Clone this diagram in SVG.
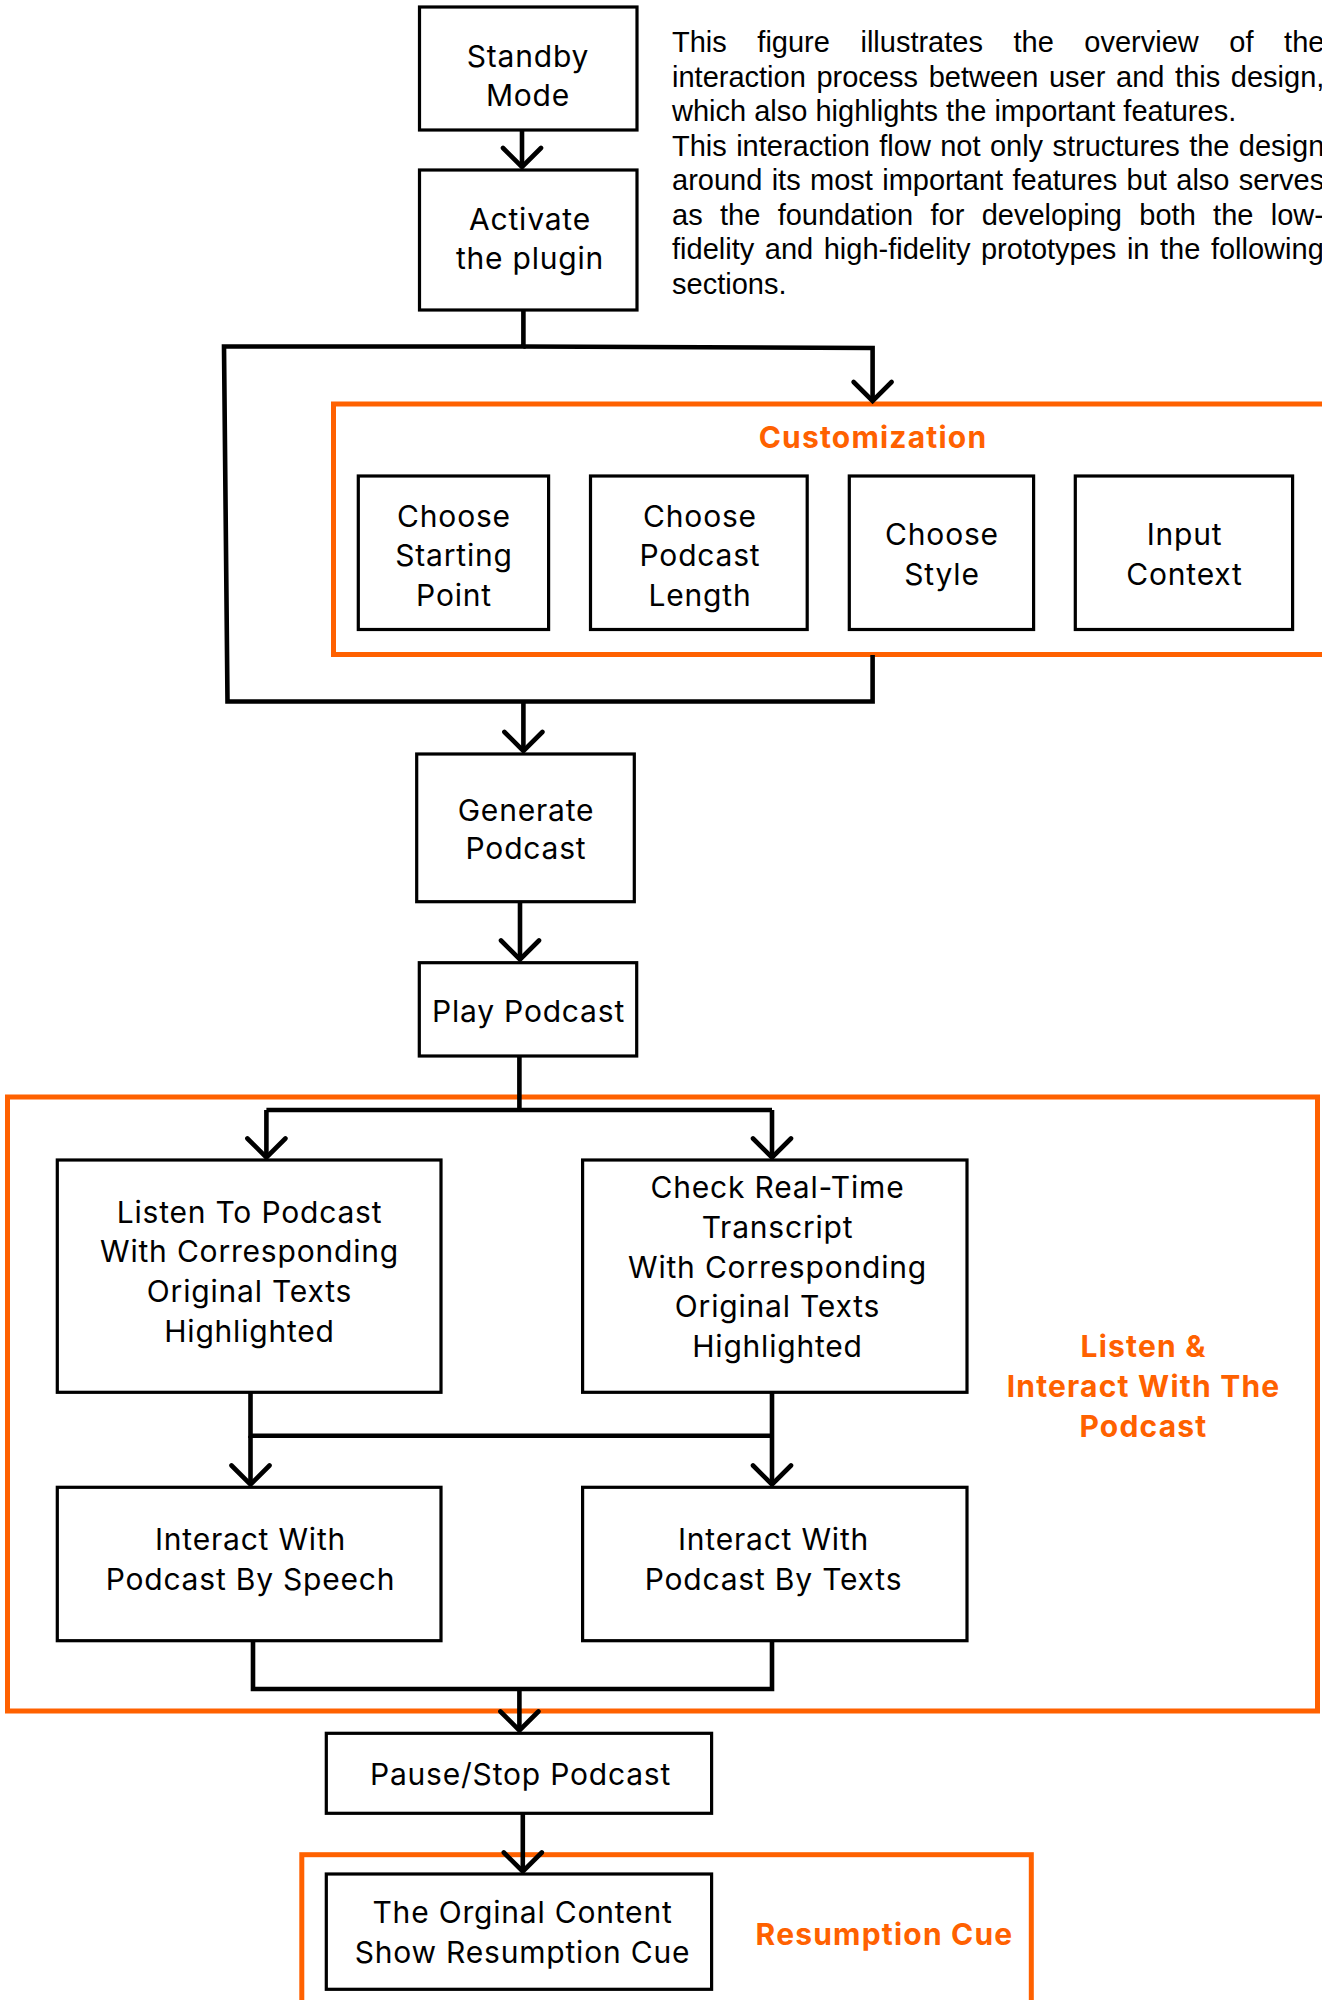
<svg xmlns="http://www.w3.org/2000/svg" width="1322" height="2000" viewBox="0 0 1322 2000">
  <style>
    .box { fill: #ffffff; stroke: #000000; stroke-width: 3.2; }
    .group { fill: none; stroke: #ff6100; stroke-width: 5; }
    .wire { fill: none; stroke: #000000; stroke-width: 4.6; }
    .label { font-family: Inter, "Noto Sans", sans-serif; font-size: 30px; letter-spacing: 0.8px; fill: #000000; text-anchor: middle; }
    .title { font-family: Inter, "Noto Sans", sans-serif; font-size: 30px; letter-spacing: 1.2px; font-weight: 700; fill: #ff6100; text-anchor: middle; }
    .para { font-family: "Liberation Sans", Arial, sans-serif; font-size: 29px; fill: #000000; }
  </style>
  <defs>
    <marker id="chevron" markerUnits="userSpaceOnUse" orient="auto" refX="0" refY="0" markerWidth="60" markerHeight="60" viewBox="-30 -30 60 60" overflow="visible">
      <path d="M-19,-19 L0,0 L-19,19" fill="none" stroke="#000000" stroke-width="4.6" stroke-linecap="round"/>
    </marker>
  </defs>
  <rect width="1322" height="2000" fill="#ffffff"/>

  <!-- grouping frames -->
  <g id="customization-group">
    <rect class="group" x="333.5" y="404" width="1000" height="250.5"/>
    <text class="title" x="873" y="448.3">Customization</text>
  </g>
  <g id="listen-group">
    <rect class="group" x="7.5" y="1097" width="1310" height="614"/>
    <text class="title" x="1143.5" y="1357.3">Listen &amp;</text>
    <text class="title" x="1143.5" y="1397.3">Interact With The</text>
    <text class="title" x="1143.5" y="1437.3">Podcast</text>
  </g>
  <g id="resumption-group">
    <rect class="group" x="301.8" y="1854.7" width="729.5" height="200"/>
    <text class="title" x="884.5" y="1945">Resumption Cue</text>
  </g>

  <!-- connectors -->
  <g id="connectors">
    <path class="wire" d="M522,130 V167" marker-end="url(#chevron)"/>
    <path class="wire" d="M523.4,310 V346.5 H224 L227.5,701.5 H872.6 V655"/>
    <path class="wire" d="M523.4,346.5 L872.6,348 V401" marker-end="url(#chevron)"/>
    <path class="wire" d="M523.4,701.5 V751" marker-end="url(#chevron)"/>
    <path class="wire" d="M520,902 V959.5" marker-end="url(#chevron)"/>
    <path class="wire" d="M519.4,1056 V1110 M266.4,1110 H772"/>
    <path class="wire" d="M266.4,1110 V1157.5" marker-end="url(#chevron)"/>
    <path class="wire" d="M772,1110 V1157.5" marker-end="url(#chevron)"/>
    <path class="wire" d="M250.5,1392 V1435.8 H772"/>
    <path class="wire" d="M250.5,1435.8 V1484.5" marker-end="url(#chevron)"/>
    <path class="wire" d="M772,1392 V1484.5" marker-end="url(#chevron)"/>
    <path class="wire" d="M253,1641 V1689 H772 V1641"/>
    <path class="wire" d="M519.4,1689 V1730.5" marker-end="url(#chevron)"/>
    <path class="wire" d="M522.8,1813 V1871.5" marker-end="url(#chevron)"/>
  </g>

  <!-- nodes -->
  <g id="standby">
    <rect class="box" x="419.5" y="7" width="217.5" height="123"/>
    <text class="label" x="528" y="67">Standby</text>
    <text class="label" x="528" y="106">Mode</text>
  </g>
  <g id="activate">
    <rect class="box" x="419.5" y="170" width="217.5" height="140"/>
    <text class="label" x="530" y="230">Activate</text>
    <text class="label" x="530" y="269.3">the plugin</text>
  </g>
  <g id="starting-point">
    <rect class="box" x="358.3" y="476" width="190.3" height="153.5"/>
    <text class="label" x="454" y="526.7">Choose</text>
    <text class="label" x="454" y="566.3">Starting</text>
    <text class="label" x="454" y="606">Point</text>
  </g>
  <g id="podcast-length">
    <rect class="box" x="590.5" y="476" width="216.7" height="153.5"/>
    <text class="label" x="700" y="526.7">Choose</text>
    <text class="label" x="700" y="566.3">Podcast</text>
    <text class="label" x="700" y="606">Length</text>
  </g>
  <g id="style">
    <rect class="box" x="849.3" y="476" width="184.3" height="153.5"/>
    <text class="label" x="942" y="545.3">Choose</text>
    <text class="label" x="942" y="585">Style</text>
  </g>
  <g id="input-context">
    <rect class="box" x="1075.3" y="476" width="217.3" height="153.5"/>
    <text class="label" x="1184.5" y="545.3">Input</text>
    <text class="label" x="1184.5" y="585">Context</text>
  </g>
  <g id="generate">
    <rect class="box" x="416.7" y="754" width="217.6" height="147.7"/>
    <text class="label" x="526" y="820.5">Generate</text>
    <text class="label" x="526" y="859">Podcast</text>
  </g>
  <g id="play">
    <rect class="box" x="419.3" y="962.7" width="217.4" height="93.3"/>
    <text class="label" x="528.5" y="1022">Play Podcast</text>
  </g>
  <g id="listen">
    <rect class="box" x="57.3" y="1160" width="383.7" height="232.3"/>
    <text class="label" x="249.5" y="1222.7">Listen To Podcast</text>
    <text class="label" x="249.5" y="1262.3">With Corresponding</text>
    <text class="label" x="249.5" y="1302">Original Texts</text>
    <text class="label" x="249.5" y="1341.6">Highlighted</text>
  </g>
  <g id="transcript">
    <rect class="box" x="582.6" y="1160" width="384.4" height="232.3"/>
    <text class="label" x="777.5" y="1198.3">Check Real-Time</text>
    <text class="label" x="777.5" y="1238">Transcript</text>
    <text class="label" x="777.5" y="1277.7">With Corresponding</text>
    <text class="label" x="777.5" y="1317.3">Original Texts</text>
    <text class="label" x="777.5" y="1357">Highlighted</text>
  </g>
  <g id="speech">
    <rect class="box" x="57.3" y="1487.3" width="383.7" height="153.4"/>
    <text class="label" x="250.5" y="1550">Interact With</text>
    <text class="label" x="250.5" y="1590">Podcast By Speech</text>
  </g>
  <g id="texts">
    <rect class="box" x="582.6" y="1487.3" width="384.4" height="153.4"/>
    <text class="label" x="773.5" y="1550">Interact With</text>
    <text class="label" x="773.5" y="1590">Podcast By Texts</text>
  </g>
  <g id="pause">
    <rect class="box" x="326.3" y="1733.3" width="385.3" height="80"/>
    <text class="label" x="520.5" y="1785">Pause/Stop Podcast</text>
  </g>
  <g id="resumption">
    <rect class="box" x="326.3" y="1874" width="385.3" height="115.3"/>
    <text class="label" x="522.5" y="1922.7">The Orginal Content</text>
    <text class="label" x="522.5" y="1963">Show Resumption Cue</text>
  </g>

  <!-- explanatory paragraph, justified lines use word-spacing -->
  <g id="caption" class="para">
    <text x="672" y="52" word-spacing="22.5">This figure illustrates the overview of the</text>
    <text x="672" y="86.5" word-spacing="2.6">interaction process between user and this design,</text>
    <text x="672" y="121">which also highlights the important features.</text>
    <text x="672" y="155.5" word-spacing="1.3">This interaction flow not only structures the design</text>
    <text x="672" y="190" word-spacing="1.3">around its most important features but also serves</text>
    <text x="672" y="224.5" word-spacing="9.3">as the foundation for developing both the low-</text>
    <text x="672" y="259" word-spacing="2.5">fidelity and high-fidelity prototypes in the following</text>
    <text x="672" y="293.5">sections.</text>
  </g>
</svg>
